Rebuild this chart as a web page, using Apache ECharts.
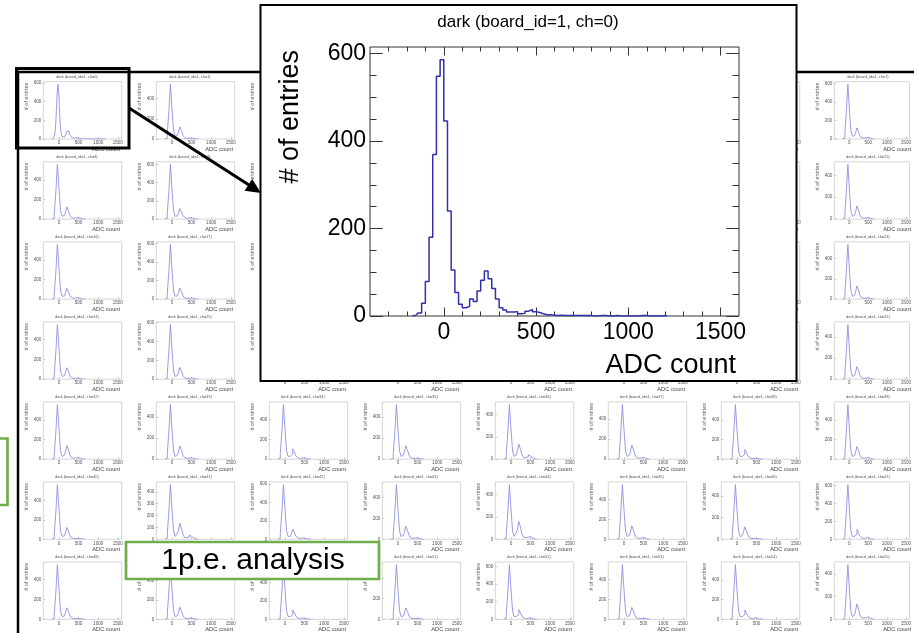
<!DOCTYPE html>
<html><head><meta charset="utf-8">
<script src="https://cdn.jsdelivr.net/npm/echarts@6/dist/echarts.min.js"></script>
<style>html,body{margin:0;padding:0;background:#fff}#c{width:914px;height:633px}</style>
</head><body><div id="c"></div>
<script>
// ---------------- data ----------------
// inset: ch=0, 20-ADC bins, first bin centre -170
const insetFirstCenter = -170;
const insetBinWidth = 20;
const insetCounts = [0,2,7,29,79,180,369,548,586,446,240,105,54,27,19,22,39,33,57,82,103,85,63,39,19,14,9,9,10,5,6,11,15,10,8,5,3,3,2,1,2,1,1,1,1,1,1,1,1,0,0,1,1,0,0,1,0,0,0,0,0,0,1,1,0,0,0,0,1,0];
const xTickLabels = [0, 500, 1000, 1500];
const xMinorTicks = [-300,-200,-100,100,200,300,400,600,700,800,900,1100,1200,1300,1400];
const insetYTickLabels = [0, 200, 400, 600];
const insetYMinorTicks = [50,100,150,250,300,350,450,500,550];
const smallYLabelCandidates = [0,100,200,300,400,500,600];

// small panels: 40-ADC bins
const smallCenters = [-180,-140,-100,-60,-20,20,60,100,140,180,220,260,300,340,380,420,460,500,540,580,620,660];
const counts_ch01 = [0,8,54,270,540,297,81,27,36,60,120,84,36,14,6,8,15,10,5,2,1,0];
const counts_ch07 = [0,9,59,295,590,325,88,30,36,60,120,84,36,14,10,12,25,17,8,3,1,0];
const counts_ch08 = [0,8,56,280,560,308,84,28,38,62,125,88,38,15,8,10,20,14,6,2,1,0];
const counts_ch09 = [0,9,60,300,600,330,90,30,35,58,115,80,35,14,6,8,15,10,5,2,1,0];
const counts_ch15 = [0,8,50,250,500,275,75,25,36,60,120,84,36,14,8,10,20,14,6,2,1,0];
const counts_ch16 = [0,8,56,280,560,308,84,28,33,55,110,77,33,13,6,8,15,10,5,2,1,0];
const counts_ch17 = [0,9,59,295,590,325,88,30,36,60,120,84,36,14,8,10,20,14,6,2,1,0];
const counts_ch23 = [0,8,54,270,540,297,81,27,39,65,130,91,39,16,8,10,20,14,6,2,1,0];
const counts_ch24 = [0,8,55,275,550,302,82,27,35,58,115,80,35,14,6,8,15,10,5,2,1,0];
const counts_ch25 = [0,9,58,290,580,319,87,29,38,62,125,88,38,15,8,10,20,14,6,2,1,0];
const counts_ch31 = [0,8,52,260,520,286,78,26,36,60,120,84,36,14,8,10,20,14,6,2,1,0];
const counts_ch32 = [0,8,56,280,560,308,84,28,42,70,140,98,42,17,10,12,25,17,8,3,1,0];
const counts_ch33 = [0,8,52,260,520,286,78,26,38,62,125,88,38,15,8,10,20,14,6,2,1,0];
const counts_ch34 = [0,8,55,275,550,302,82,27,32,52,105,74,32,13,6,8,15,10,5,2,1,0];
const counts_ch35 = [0,8,52,260,520,286,78,26,39,65,130,91,39,16,6,8,15,10,5,2,1,0];
const counts_ch36 = [0,7,49,245,490,270,74,25,40,68,135,95,40,16,16,20,40,28,12,4,1,0];
const counts_ch37 = [0,8,54,270,540,297,81,27,42,70,140,98,42,17,10,12,25,17,8,3,1,0];
const counts_ch38 = [0,8,56,280,560,308,84,28,30,50,100,70,30,12,4,5,10,7,3,2,1,0];
const counts_ch39 = [0,8,56,280,560,308,84,28,39,65,130,91,39,16,10,12,25,17,8,3,1,0];
const counts_ch40 = [0,8,56,280,560,308,84,28,36,60,120,84,36,14,6,8,15,10,5,2,1,0];
const counts_ch41 = [0,7,46,230,460,253,69,23,40,68,135,95,40,16,14,18,35,24,10,3,1,0];
const counts_ch42 = [0,9,60,298,595,327,89,30,33,55,110,77,33,13,6,8,15,10,5,2,1,0];
const counts_ch43 = [0,8,52,260,520,286,78,26,38,62,125,88,38,15,8,10,20,14,6,2,1,0];
const counts_ch44 = [0,7,49,245,490,270,74,25,48,80,160,112,48,19,14,18,35,24,10,3,1,0];
const counts_ch45 = [0,8,55,275,550,302,82,27,40,68,135,95,40,16,10,12,25,17,8,3,1,0];
const counts_ch46 = [0,8,50,252,505,278,76,25,35,58,115,80,35,14,6,8,15,10,5,2,1,0];
const counts_ch47 = [0,9,61,305,610,335,92,30,33,55,110,77,33,13,8,10,20,14,6,2,1,0];
const counts_ch48 = [0,8,54,272,545,300,82,27,35,58,115,80,35,14,6,8,15,10,5,2,1,0];
const counts_ch49 = [0,8,56,280,560,308,84,28,38,62,125,88,38,15,8,10,20,14,6,2,1,0];
const counts_ch50 = [0,9,59,295,590,325,88,30,30,50,100,70,30,12,6,8,15,10,5,2,1,0];
const counts_ch51 = [0,8,53,265,530,292,80,26,33,55,110,77,33,13,6,8,15,10,5,2,1,0];
const counts_ch52 = [0,9,62,310,620,341,93,31,33,55,110,77,33,13,6,8,15,10,5,2,1,0];
const counts_ch53 = [0,8,55,275,550,302,82,27,36,60,120,84,36,14,6,8,15,10,5,2,1,0];
const counts_ch54 = [0,8,56,278,555,305,83,28,28,48,95,66,28,11,6,8,15,10,5,2,1,0];
const counts_ch55 = [0,7,48,240,480,264,72,24,40,68,135,95,40,16,12,15,30,21,9,3,1,0];

const panelCounts = {
  1:counts_ch01, 7:counts_ch07, 8:counts_ch08, 9:counts_ch09, 15:counts_ch15,
  16:counts_ch16, 17:counts_ch17, 23:counts_ch23, 24:counts_ch24, 25:counts_ch25, 31:counts_ch31,
  32:counts_ch32, 33:counts_ch33, 34:counts_ch34, 35:counts_ch35, 36:counts_ch36, 37:counts_ch37, 38:counts_ch38, 39:counts_ch39,
  40:counts_ch40, 41:counts_ch41, 42:counts_ch42, 43:counts_ch43, 44:counts_ch44, 45:counts_ch45, 46:counts_ch46, 47:counts_ch47,
  48:counts_ch48, 49:counts_ch49, 50:counts_ch50, 51:counts_ch51, 52:counts_ch52, 53:counts_ch53, 54:counts_ch54, 55:counts_ch55
};

// ---------------- layout / style ----------------
const FONT = '"Liberation Sans", Arial, Helvetica, sans-serif';
const X_MIN = -400, X_MAX = 1600;
const COLS = 8, ROWS = 7;
const colLeft0 = 43.3, colPitch = 113, panelW = 78.4;
const rowBottom0 = 139, rowPitch = 80.05, panelH = 57.3;
const plain = v => String(v);

const chart = echarts.init(document.getElementById('c'), null, {renderer:'canvas'});
const option = {
  animation: false, backgroundColor: '#ffffff',
  grid: [], xAxis: [], yAxis: [], series: [], graphic: { elements: [] }
};
const G = option.graphic.elements;

function insetPairs() {
  return insetCounts.map((v, i) => [insetFirstCenter + i * insetBinWidth, v]);
}

function addPanel(ch, row, col) {
  const left = colLeft0 + colPitch * col;
  const bottom = rowBottom0 + rowPitch * row;
  const top = bottom - panelH;
  let data = null;
  if (ch === 0) data = insetPairs();
  else if (panelCounts[ch]) data = panelCounts[ch].map((v, i) => [smallCenters[i], v]);
  const peak = data ? Math.max(...data.map(d => d[1])) : 550;
  const ymax = peak * 1.05;
  const step = ymax < 500 ? 100 : 200;
  const yLabels = smallYLabelCandidates.filter(v => v <= ymax && v % step === 0);
  const gi = option.grid.length;
  option.grid.push({ left: left, top: top, width: panelW, height: panelH, show: true,
    borderColor: '#c4c4c4', borderWidth: 0.7, backgroundColor: 'rgba(0,0,0,0)', containLabel: false, z: 0 });
  option.xAxis.push({ type: 'value', gridIndex: gi, min: X_MIN, max: X_MAX, position: 'bottom',
    axisLine: { show: false, onZero: false }, splitLine: { show: false },
    axisTick: { show: true, inside: true, length: 2, customValues: xTickLabels, lineStyle: { color: '#aaa', width: 0.6 } },
    axisLabel: { customValues: xTickLabels, formatter: plain, fontSize: 4.6, margin: 1.5, color: '#555', fontFamily: FONT } });
  option.yAxis.push({ type: 'value', gridIndex: gi, min: 0, max: ymax, position: 'left',
    axisLine: { show: false, onZero: false }, splitLine: { show: false },
    axisTick: { show: true, inside: true, length: 2, customValues: yLabels, lineStyle: { color: '#aaa', width: 0.6 } },
    axisLabel: { customValues: yLabels, formatter: plain, fontSize: 4.6, margin: 2, color: '#555', fontFamily: FONT } });
  if (data) {
    option.series.push({ type: 'line', xAxisIndex: gi, yAxisIndex: gi, data: data, step: 'middle',
      symbol: 'none', silent: true, z: 2, lineStyle: { color: '#9090e2', width: 0.9 } });
  }
  G.push({ type: 'text', x: left + panelW / 2 - 5.6, y: top - 5.2, z: 1, silent: true,
    style: { text: 'dark (board_id=1, ch=' + ch + ')', font: '3.9px ' + FONT, fill: '#555', align: 'center', verticalAlign: 'middle' } });
  G.push({ type: 'text', x: left - 16.5, y: top + 1, rotation: Math.PI / 2, z: 1, silent: true,
    style: { text: '# of entries', font: '5.6px ' + FONT, fill: '#555', align: 'right', verticalAlign: 'middle' } });
  G.push({ type: 'text', x: left + panelW - 1.5, y: bottom + 10.2, z: 1, silent: true,
    style: { text: 'ADC count', font: '5.8px ' + FONT, fill: '#444', align: 'right', verticalAlign: 'middle' } });
}

for (let r = 0; r < ROWS; r++) {
  for (let c = 0; c < COLS; c++) {
    addPanel(r * COLS + c, r, c);
  }
}

// ---------------- inset (ch=0, enlarged) ----------------
const IZ = 50;
G.push({ type: 'rect', shape: { x: 260.5, y: 5, width: 536, height: 376 }, z: 40, silent: true,
  style: { fill: '#ffffff', stroke: '#000', lineWidth: 2 } });
const gi = option.grid.length;
option.grid.push({ left: 370, top: 47, width: 369, height: 269, show: true, borderColor: '#333', borderWidth: 1,
  backgroundColor: '#fff', z: IZ });
function insetX(pos, vals, len, labels) {
  option.xAxis.push({ type: 'value', gridIndex: gi, min: X_MIN, max: X_MAX, position: pos, z: IZ,
    axisLine: { show: false, onZero: false }, splitLine: { show: false },
    axisTick: { show: true, inside: true, length: len, customValues: vals, lineStyle: { color: '#333', width: 1 } },
    axisLabel: labels ? { customValues: vals, formatter: plain, fontSize: 23, margin: 5, color: '#000', fontFamily: FONT } : { show: false } });
}
function insetY(pos, vals, len, labels) {
  option.yAxis.push({ type: 'value', gridIndex: gi, min: 0, max: 615, position: pos, z: IZ,
    axisLine: { show: false, onZero: false }, splitLine: { show: false },
    axisTick: { show: true, inside: true, length: len, customValues: vals, lineStyle: { color: '#333', width: 1 } },
    axisLabel: labels ? { customValues: vals, formatter: plain, fontSize: 23, margin: 4, color: '#000', fontFamily: FONT } : { show: false } });
}
const xMainIdx = option.xAxis.length;
insetX('bottom', xTickLabels, 8.5, true);
insetX('bottom', xMinorTicks, 4.5, false);
insetX('top', xTickLabels, 8.5, false);
insetX('top', xMinorTicks, 4.5, false);
const yMainIdx = option.yAxis.length;
insetY('left', insetYTickLabels, 12.7, true);
insetY('left', insetYMinorTicks, 6.5, false);
insetY('right', insetYTickLabels, 12.7, false);
insetY('right', insetYMinorTicks, 6.5, false);
option.series.push({ type: 'line', xAxisIndex: xMainIdx, yAxisIndex: yMainIdx, data: insetPairs(), step: 'middle',
  symbol: 'none', silent: true, z: IZ + 2, lineStyle: { color: '#2f2fb0', width: 1.5 } });
G.push({ type: 'text', x: 528, y: 22.5, z: IZ + 5, silent: true,
  style: { text: 'dark (board_id=1, ch=0)', font: '17px ' + FONT, fill: '#000', align: 'center', verticalAlign: 'middle' } });
G.push({ type: 'text', x: 291, y: 50, rotation: Math.PI / 2, z: IZ + 5, silent: true,
  style: { text: '# of entries', font: '27px ' + FONT, fill: '#000', align: 'right', verticalAlign: 'middle' } });
G.push({ type: 'text', x: 736, y: 366, z: IZ + 5, silent: true,
  style: { text: 'ADC count', font: '27px ' + FONT, fill: '#000', align: 'right', verticalAlign: 'middle' } });

// ---------------- slide decorations ----------------
const GREEN = '#72ad4c';
G.push({ type: 'polyline', shape: { points: [[18, 650], [18, 72], [930, 72]] }, z: 30, silent: true,
  style: { stroke: '#000', lineWidth: 2.5, fill: null } });
G.push({ type: 'rect', shape: { x: 16.5, y: 68.5, width: 112.5, height: 79.5 }, z: 60, silent: true,
  style: { fill: null, stroke: '#000', lineWidth: 3 } });
G.push({ type: 'line', shape: { x1: 129, y1: 108, x2: 249, y2: 185 }, z: 60, silent: true,
  style: { stroke: '#000', lineWidth: 3 } });
G.push({ type: 'polygon', shape: { points: [[261, 193], [244.6, 190.8], [252.2, 179.0]] }, z: 60, silent: true,
  style: { fill: '#000' } });
G.push({ type: 'rect', shape: { x: -20, y: 438.5, width: 27.5, height: 66.5 }, z: 30, silent: true,
  style: { fill: null, stroke: GREEN, lineWidth: 2.7 } });
G.push({ type: 'rect', shape: { x: 126, y: 542, width: 253, height: 37 }, z: 30, silent: true,
  style: { fill: '#fff', stroke: GREEN, lineWidth: 2.7 } });
G.push({ type: 'text', x: 253, y: 561, z: 31, silent: true,
  style: { text: '1p.e. analysis', font: '30px ' + FONT, fill: '#000', align: 'center', verticalAlign: 'middle' } });

chart.setOption(option);
</script></body></html>
